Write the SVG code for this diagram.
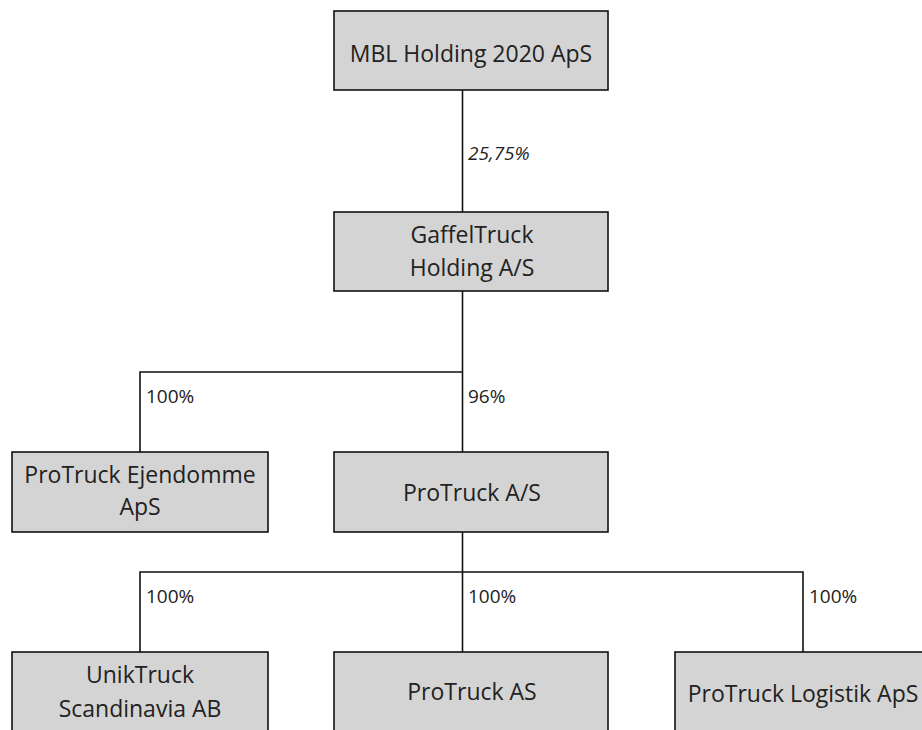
<svg xmlns="http://www.w3.org/2000/svg" width="922" height="730" viewBox="0 0 922 730">
<style>
.box{fill:#d4d4d4;stroke:#111;stroke-width:1.6}
.t{font-family:"Open Sans","Noto Sans",sans-serif;font-size:23px;fill:#222;text-anchor:middle}
.l{font-family:"Open Sans","Noto Sans",sans-serif;font-size:19px;fill:#222}
.c{fill:none;stroke:#111;stroke-width:1.6}
</style>
<rect width="922" height="730" fill="#fff"/>
<g id="connectors">
<path class="c" d="M462.5 90V212M462.5 291V452M140 452V372H462.5M462.5 532V652M140 652V572H803V652"/>
<text class="l" x="468" y="160" font-style="italic">25,75%</text>
<text class="l" x="146" y="403">100%</text>
<text class="l" x="468" y="403">96%</text>
<text class="l" x="146" y="603">100%</text>
<text class="l" x="468" y="603">100%</text>
<text class="l" x="809" y="603">100%</text>
</g>
<g id="mbl"><rect class="box" x="334" y="11" width="274" height="79"/><text class="t" x="471" y="62">MBL Holding 2020 ApS</text></g>
<g id="gaffeltruck"><rect class="box" x="334" y="212" width="274" height="79"/><text class="t" x="472" y="243">GaffelTruck</text><text class="t" x="472" y="276">Holding A/S</text></g>
<g id="ejendomme"><rect class="box" x="12" y="452" width="256" height="80"/><text class="t" x="140" y="483">ProTruck Ejendomme</text><text class="t" x="140" y="515">ApS</text></g>
<g id="protruck-as-dk"><rect class="box" x="334" y="452" width="274" height="80"/><text class="t" x="472" y="501">ProTruck A/S</text></g>
<g id="uniktruck"><rect class="box" x="12" y="652" width="256" height="90"/><text class="t" x="140" y="683">UnikTruck</text><text class="t" x="140" y="717">Scandinavia AB</text></g>
<g id="protruck-as"><rect class="box" x="334" y="652" width="274" height="90"/><text class="t" x="472" y="700">ProTruck AS</text></g>
<g id="logistik"><rect class="box" x="675" y="652" width="256" height="90"/><text class="t" x="803" y="702">ProTruck Logistik ApS</text></g>
</svg>
